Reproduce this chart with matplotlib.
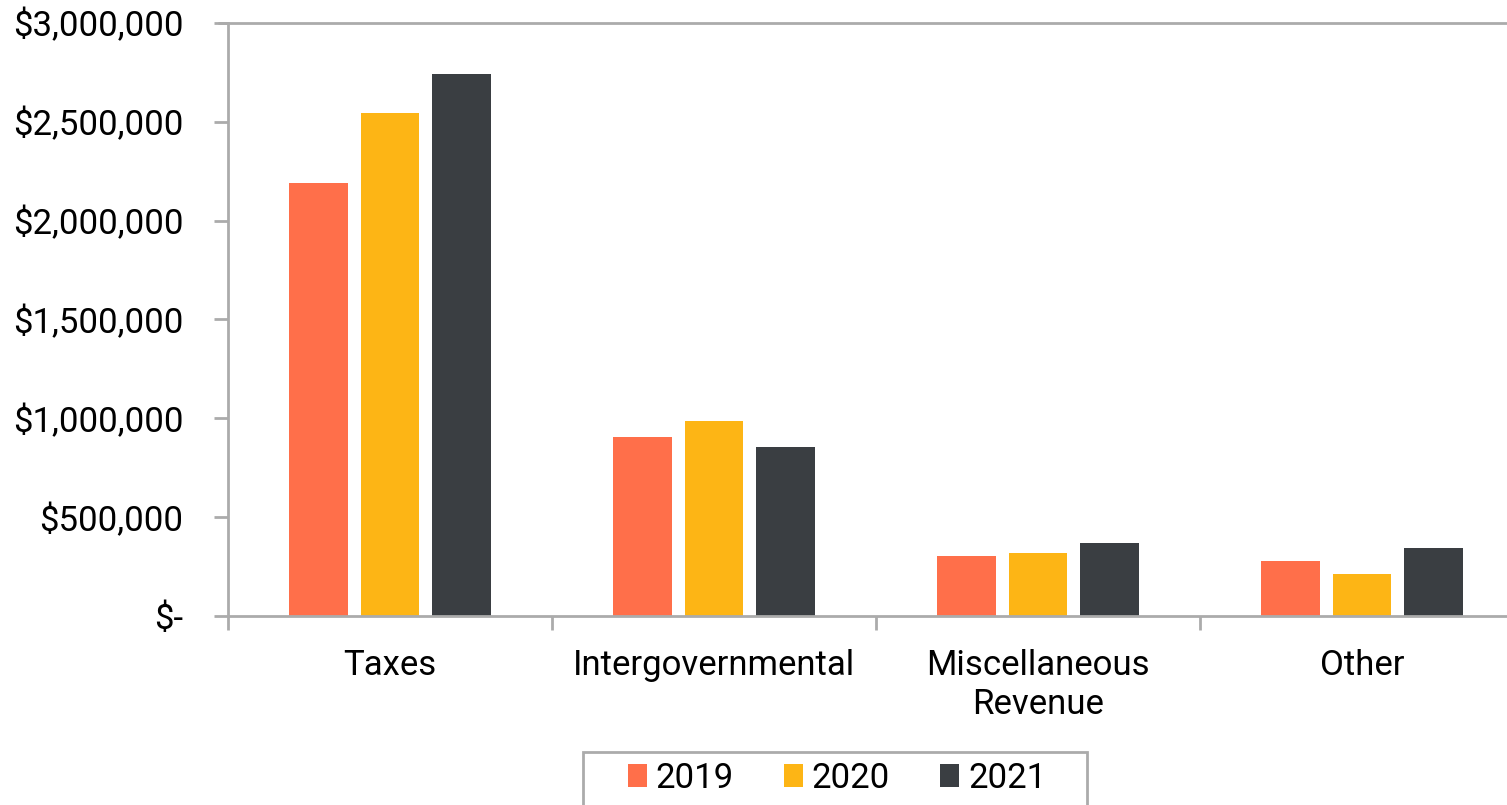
import matplotlib
matplotlib.use("Agg")
import matplotlib.pyplot as plt
import numpy as np
from matplotlib.ticker import FuncFormatter, FixedLocator
from matplotlib.patches import Rectangle

plt.rcParams['font.family'] = ['Roboto', 'DejaVu Sans']

categories = ["Taxes", "Intergovernmental", "Miscellaneous\nRevenue", "Other"]
years = ["2019", "2020", "2021"]
values_2019 = [2190000, 905000, 303000, 278000]
values_2020 = [2545000, 986000, 319000, 212000]
values_2021 = [2742000, 855000, 369000, 344000]
colors = ["#FF6F4A", "#FDB515", "#3A3E42"]

W, H = 1507, 805
fig = plt.figure(figsize=(W / 100, H / 100), dpi=100)
ax = fig.add_axes([228 / W, (H - 616) / H, 1296 / W, 593 / H])

x = np.arange(len(categories))
width = 0.182
step = 0.222
series = [values_2019, values_2020, values_2021]
for i, (vals, c, lab) in enumerate(zip(series, colors, years)):
    ax.bar(x + (i - 1) * step, vals, width=width, color=c, label=lab, zorder=2)

ax.set_xlim(-0.5, len(categories) - 0.5)
ax.set_ylim(0, 3000000)
ax.set_yticks(np.arange(0, 3000001, 500000))

def fmt(v, pos):
    if v == 0:
        return "$-"
    return "${:,.0f}".format(v)

FS = 25
ax.yaxis.set_major_formatter(FuncFormatter(fmt))
ax.xaxis.set_major_locator(FixedLocator(np.arange(-0.5, len(categories), 1.0)))
ax.xaxis.set_minor_locator(FixedLocator(x))
ax.xaxis.set_major_formatter(FuncFormatter(lambda v, p: ""))
ax.set_xticklabels(categories, minor=True)
ax.tick_params(axis='x', which='minor', length=0, pad=24, labelsize=FS)
ax.tick_params(axis='x', which='major', length=10, width=2, color="#ABABAB")
ax.tick_params(axis='y', length=10, width=2, color="#ABABAB", labelsize=FS, pad=22)

ax.spines['right'].set_visible(False)
ax.spines['top'].set_visible(False)
for s in ['left', 'bottom']:
    ax.spines[s].set_color("#ABABAB")
    ax.spines[s].set_linewidth(2)
ax.hlines(3000000, -0.5 - 10 / 324, len(categories) - 0.5, color="#ABABAB", lw=2,
          clip_on=False, zorder=3)

leg = fig.legend(loc='center', bbox_to_anchor=(837 / W, 1 - 778 / H), ncol=3,
                 fontsize=FS, frameon=False,
                 handlelength=0.55, handleheight=0.65, handletextpad=0.25,
                 columnspacing=1.45, borderpad=0, borderaxespad=0)

fig.patches.append(Rectangle((583 / W, -0.01), (1087 - 583) / W, 0.01 + (H - 752) / H,
                             transform=fig.transFigure, fill=False,
                             edgecolor="#ABABAB", linewidth=2))

fig.savefig("out.png", dpi=100)
